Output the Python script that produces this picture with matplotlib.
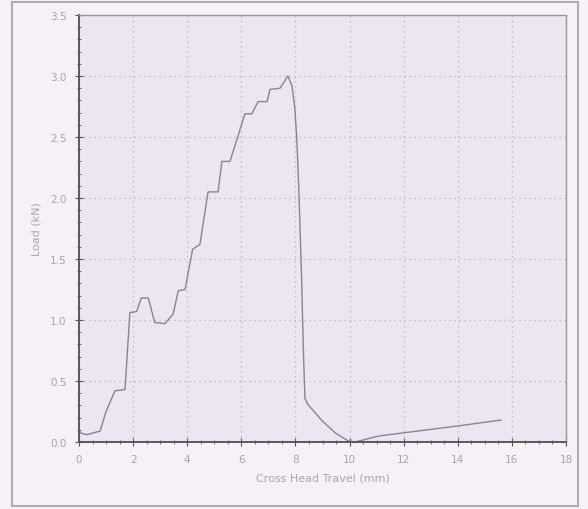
import numpy as np
import matplotlib.pyplot as plt
from matplotlib.patches import Rectangle
from matplotlib.ticker import MultipleLocator

# cross head travel (mm) and load (kN)
travel = [0.0, 0.1, 0.3, 0.78, 1.0, 1.33, 1.7, 1.88, 2.13, 2.3, 2.56, 2.8, 3.18,
          3.48, 3.67, 3.92, 4.2, 4.47, 4.77, 5.14, 5.28, 5.58, 5.88, 6.13, 6.39,
          6.62, 6.95, 7.06, 7.43, 7.72, 7.87, 7.98, 8.05, 8.12, 8.22, 8.3, 8.35,
          8.45, 8.65, 9.0, 9.5, 9.94, 10.2, 11.1, 13.95, 15.6]
load = [0.09, 0.07, 0.06, 0.09, 0.25, 0.42, 0.43, 1.06, 1.07, 1.18, 1.18, 0.98, 0.97,
        1.05, 1.24, 1.25, 1.58, 1.62, 2.05, 2.05, 2.30, 2.30, 2.51, 2.69, 2.69,
        2.79, 2.79, 2.89, 2.90, 3.0, 2.92, 2.73, 2.48, 2.1, 1.4, 0.7, 0.36,
        0.31, 0.26, 0.17, 0.07, 0.01, 0.0, 0.05, 0.13, 0.18]

xticks = np.arange(0, 19, 2)
yticks = np.arange(0, 3.51, 0.5)

fig = plt.figure(figsize=(5.88, 5.10), dpi=100)
fig.patch.set_facecolor('#f7f0f7')
fig.patches.append(Rectangle((12 / 588, 3 / 510), 566 / 588, 504 / 510,
                             transform=fig.transFigure, fill=False,
                             edgecolor='#b0aab2', lw=1.5))

ax = fig.add_axes([79 / 588, 67 / 510, 487 / 588, 427 / 510])
ax.set_facecolor('#ede5ef')
ax.plot(travel, load, color='#8a8490', lw=1.0)

ax.set_xlim(0, 18)
ax.set_ylim(0, 3.5)
ax.set_xticks(xticks)
ax.set_yticks(yticks)
ax.set_xticklabels([str(v) for v in xticks])
ax.set_yticklabels(['%.1f' % v for v in yticks])
ax.xaxis.set_minor_locator(MultipleLocator(0.5))
ax.yaxis.set_minor_locator(MultipleLocator(0.1))
ax.tick_params(which='major', direction='inout', length=6, color='#555555',
               labelcolor='#a8a2aa', labelsize=7.5, pad=6)
ax.tick_params(which='minor', direction='inout', length=3, color='#555555')
ax.grid(True, which='major', color='#b8b2bc', ls=(0, (1, 3)), lw=0.9)

for s in ['left', 'bottom']:
    ax.spines[s].set_color('#5a565c')
    ax.spines[s].set_linewidth(1.4)
for s in ['top', 'right']:
    ax.spines[s].set_color('#9a949c')
    ax.spines[s].set_linewidth(1.0)

ax.set_xlabel('Cross Head Travel (mm)', color='#aaa4ac', fontsize=8, labelpad=6)
ax.set_ylabel('Load (kN)', color='#aaa4ac', fontsize=8, labelpad=6)

fig.savefig('out.png', dpi=100, facecolor=fig.get_facecolor())
